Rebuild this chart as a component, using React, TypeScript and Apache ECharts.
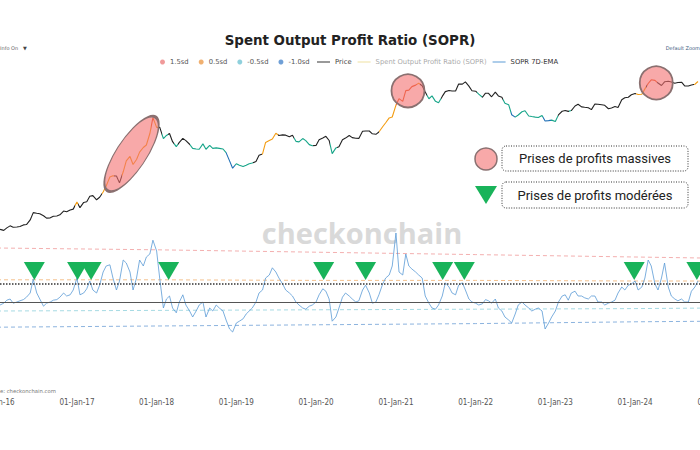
import React, { useEffect, useRef } from "react";
import * as echarts from "echarts";

// ---------- DATA ----------
// semi-monthly sample dates (1st and 15th), Jan 2016 .. Oct 2024
const sampleDates: string[] = [];
for (let y = 2016; y <= 2024; y++) {
  for (let m = 1; m <= 12; m++) {
    if (y === 2024 && m > 10) break;
    const mm = String(m).padStart(2, "0");
    sampleDates.push(`${y}-${mm}-01`, `${y}-${mm}-15`);
  }
}

const price2016 = [430, 385, 372, 405, 435, 415, 417, 425, 450, 455, 535, 690, 675, 665, 620, 570, 575, 607, 615, 640, 730, 712, 755, 780];
const price2017 = [1000, 820, 985, 1010, 1220, 1250, 1080, 1180, 1420, 1750, 2400, 2500, 2480, 1950, 2870, 4200, 4900, 3700, 4400, 5700, 6700, 7300, 10900, 19000];
const price2018 = [13500, 13600, 9100, 10200, 10900, 8200, 6900, 8000, 9200, 8500, 7500, 6500, 6350, 6300, 7600, 6300, 7200, 6500, 6600, 6500, 6350, 5600, 4200, 3250];
const price2019 = [3800, 3600, 3450, 3600, 3800, 3900, 4100, 5100, 5350, 8000, 8550, 9000, 11000, 10200, 10400, 10300, 9750, 10300, 8300, 8150, 9150, 8500, 7400, 7100];
const price2020 = [7200, 8800, 9350, 9900, 8550, 5400, 6600, 6850, 8800, 9300, 10200, 9450, 9230, 9200, 11800, 11900, 11900, 10800, 10600, 11500, 13800, 15900, 18800, 19400];
const price2021 = [29400, 36800, 33500, 48700, 49600, 56000, 59000, 63000, 57800, 46500, 36700, 40500, 33500, 31800, 39800, 47000, 48800, 48100, 48000, 61500, 61000, 66000, 57000, 48500];
const price2022 = [47700, 43100, 38700, 44500, 44400, 39300, 46300, 40500, 38500, 31300, 29800, 21000, 19300, 20800, 23300, 24100, 20100, 19700, 19300, 19100, 20500, 16900, 17100, 17400];
const price2023 = [16600, 20900, 23700, 24300, 23600, 24300, 28500, 30300, 27600, 27200, 26800, 25100, 30600, 30300, 29700, 29200, 25900, 26600, 27900, 27100, 35400, 37900, 38700, 42200];
const price2024 = [44200, 42500, 43000, 51800, 62400, 71000, 69700, 63400, 58200, 66200, 67700, 66000, 62800, 64500, 65300, 57500, 57300, 59200, 60800, 67000];
const priceValues = [...price2016, ...price2017, ...price2018, ...price2019, ...price2020, ...price2021, ...price2022, ...price2023, ...price2024];

const ema2016 = [1.0, 0.995, 0.998, 1.003, 1.005, 0.998, 1.0, 1.002, 1.004, 1.008, 1.015, 1.038, 1.015, 1.005, 0.993, 0.998, 1.0, 1.003, 1.004, 1.008, 1.015, 1.01, 1.012, 1.02];
const ema2017 = [1.04, 1.012, 1.015, 1.022, 1.035, 1.02, 1.015, 1.028, 1.05, 1.06, 1.062, 1.04, 1.02, 1.035, 1.07, 1.065, 1.05, 1.02, 1.04, 1.07, 1.06, 1.075, 1.08, 1.103];
const ema2018 = [1.085, 1.04, 0.99, 1.005, 1.01, 0.99, 0.982, 1.0, 1.012, 0.995, 0.985, 0.975, 0.985, 0.995, 1.0, 0.975, 0.99, 0.985, 0.995, 0.99, 0.985, 0.97, 0.955, 0.95];
const ema2019 = [0.965, 0.968, 0.972, 0.98, 0.985, 0.99, 1.0, 1.015, 1.02, 1.04, 1.045, 1.057, 1.05, 1.04, 1.03, 1.02, 1.015, 1.01, 1.0, 0.995, 0.99, 0.988, 0.993, 0.995];
const ema2020 = [1.0, 1.012, 1.022, 1.018, 1.005, 0.968, 0.975, 0.99, 1.008, 1.015, 1.01, 1.005, 1.0, 1.002, 1.02, 1.028, 1.015, 0.998, 1.0, 1.012, 1.03, 1.04, 1.045, 1.06];
const ema2021 = [1.115, 1.05, 1.045, 1.08, 1.06, 1.055, 1.05, 1.045, 1.04, 1.01, 0.998, 0.99, 0.988, 0.995, 1.01, 1.032, 1.025, 1.015, 1.012, 1.028, 1.032, 1.02, 1.005, 1.0];
const ema2022 = [0.998, 0.995, 0.997, 1.004, 1.002, 0.998, 1.005, 0.99, 0.985, 0.975, 0.97, 0.965, 0.98, 0.995, 1.0, 0.995, 0.99, 0.985, 0.988, 0.99, 0.985, 0.955, 0.965, 0.975];
const ema2023 = [0.985, 1.0, 1.01, 1.012, 1.003, 1.015, 1.018, 1.01, 1.01, 1.007, 1.005, 1.01, 1.01, 1.0, 1.0, 0.995, 0.998, 1.0, 1.003, 1.015, 1.025, 1.02, 1.028, 1.03];
const ema2024 = [1.035, 1.02, 1.025, 1.04, 1.07, 1.06, 1.03, 1.02, 1.04, 1.065, 1.025, 1.01, 1.005, 1.002, 1.005, 1.0, 1.0, 1.018, 1.025, 1.035];
const emaValues = [...ema2016, ...ema2017, ...ema2018, ...ema2019, ...ema2020, ...ema2021, ...ema2022, ...ema2023, ...ema2024];

// SOPR standard-deviation bands
const bandDates = ["2016-01-01", "2018-01-01", "2020-01-01", "2022-01-01", "2024-01-01", "2025-01-01"];
const sd15 = [1.09, 1.087, 1.083, 1.079, 1.075, 1.073];
const sd05 = [1.037, 1.037, 1.036, 1.036, 1.035, 1.035];
const sdm05 = [0.985, 0.986, 0.987, 0.988, 0.989, 0.99];
const sdm10 = [0.958, 0.96, 0.962, 0.964, 0.967, 0.968];
const breakEven = 1.0;
const thresholdLevel = 1.0325;

// periods where price is coloured by SOPR band
const band15Ranges = [["2017-12-05", "2017-12-20"], ["2021-01-01", "2021-04-05"], ["2024-02-25", "2024-04-10"]];
const band05Ranges = [["2016-12-25", "2017-01-08"], ["2017-04-25", "2017-06-20"], ["2017-07-25", "2017-12-05"], ["2017-12-20", "2018-01-05"], ["2019-04-28", "2019-07-10"], ["2020-10-15", "2021-01-01"], ["2021-04-05", "2021-04-20"], ["2024-01-05", "2024-02-20"], ["2024-09-28", "2024-10-31"]];
const bandM05Ranges = [["2018-01-25", "2018-02-20"], ["2018-03-20", "2018-04-10"], ["2018-06-05", "2018-11-15"], ["2018-12-28", "2019-03-20"], ["2019-09-20", "2019-12-20"], ["2020-03-05", "2020-04-05"], ["2021-05-25", "2021-07-25"], ["2022-01-05", "2022-01-31"], ["2022-05-05", "2022-06-10"], ["2022-07-01", "2022-11-05"], ["2022-12-10", "2023-01-15"], ["2023-03-05", "2023-03-15"]];
const bandM10Ranges = [["2018-11-15", "2018-12-28"], ["2022-06-10", "2022-07-01"], ["2022-11-05", "2022-12-10"]];

// annotations
const triangleDates = ["2016-06-20", "2017-01-04", "2017-03-07", "2018-02-25", "2020-02-05", "2020-08-15", "2021-08-03", "2021-11-10", "2023-12-28", "2024-10-10"];
const triangleLevel = 1.0517;
const ellipseSpot = { date: "2017-09-08", price: 5360 };
const circleSpots = [{ date: "2021-02-25", price: 48300 }, { date: "2024-04-07", price: 63800 }];

const xTickFormat = (v: number) => {
  const d = new Date(v);
  if (d.getMonth() !== 0 || d.getDate() !== 1) return "";
  return "01-Jan-" + String(d.getFullYear()).slice(2);
};

const C15 = "#e8541c";
const C05 = "#f39c12";
const CM05 = "#17a589";
const CM10 = "#1f6fb5";
const GREEN = "#19b35a";
const PINK = "rgba(243,112,112,0.6)";
const PINK_BORDER = "#8a7070";
const LINE_ICON = "path://M0,0 L26,0 L26,2 L0,2 Z";

export default function App() {
  const ref = useRef<HTMLDivElement>(null);
  useEffect(() => {
    if (!ref.current) return;
    const chart = echarts.init(ref.current, undefined, { renderer: "svg" });
    const t = (s: string) => echarts.time.parse(s).getTime();
    const pieces: any[] = [];
    const addPieces = (ranges: string[][], color: string) =>
      ranges.forEach(([a, b]) => pieces.push({ gte: t(a), lt: t(b), color }));
    addPieces(band15Ranges, C15);
    addPieces(band05Ranges, C05);
    addPieces(bandM05Ranges, CM05);
    addPieces(bandM10Ranges, CM10);

    const font = "DejaVu Sans";
    const xCommon = {
      type: "time",
      min: "2016-01-01",
      max: "2025-01-01",
      splitNumber: 9,
      minInterval: 365 * 86400000,
      maxInterval: 366 * 86400000,
      splitLine: { show: false },
      axisLine: { show: false },
      axisTick: { show: false },
    };

    const option: any = {
      animation: false,
      backgroundColor: "#ffffff",
      title: {
        text: "Spent Output Profit Ratio (SOPR)",
        left: "center",
        top: 34,
        padding: 0,
        textStyle: { fontFamily: font, fontWeight: "bold", fontSize: 13.4, color: "#222" },
      },
      legend: [
        {
          left: 160,
          top: 58.5,
          padding: 0,
          itemWidth: 5,
          itemHeight: 5,
          itemGap: 10,
          data: ["1.5sd", "0.5sd", "-0.5sd", "-1.0sd"].map((n) => ({ name: n, icon: "circle" })),
          textStyle: { fontFamily: font, fontSize: 6.8, color: "#555" },
        },
        {
          left: 317,
          top: 58.5,
          padding: 0,
          itemWidth: 13,
          itemHeight: 5,
          itemGap: 6,
          data: [
            { name: "Price", icon: LINE_ICON, itemStyle: { color: "#333" }, textStyle: { color: "#444" } },
            { name: "Spent Output Profit Ratio (SOPR)", icon: LINE_ICON, itemStyle: { color: "#eee0a0" }, textStyle: { color: "#aaa" } },
            { name: "SOPR 7D-EMA", icon: LINE_ICON, itemStyle: { color: "#5b9bd5" }, textStyle: { color: "#333" } },
          ],
          textStyle: { fontFamily: font, fontSize: 6.8, color: "#555" },
        },
      ],
      grid: [
        { left: -3, right: -15, top: 4, height: 264, outerBoundsMode: "none", containLabel: false },
        { left: -3, right: -15, top: 212, height: 150, outerBoundsMode: "none", containLabel: false },
      ],
      xAxis: [
        { ...xCommon, gridIndex: 0, axisLabel: { show: false } },
        {
          ...xCommon,
          gridIndex: 1,
          axisLabel: {
            show: true,
            margin: 36,
            formatter: xTickFormat,
            fontFamily: "Liberation Sans Narrow, DejaVu Sans Condensed, sans-serif",
            fontSize: 8,
            color: "#555",
            showMinLabel: true,
            showMaxLabel: true,
          },
        },
      ],
      yAxis: [
        { type: "log", gridIndex: 0, min: 100, max: 1000000, show: false, splitLine: { show: false } },
        { type: "value", gridIndex: 1, min: 0.9, max: 1.15, show: false, splitLine: { show: false } },
      ],
      visualMap: {
        type: "piecewise",
        show: false,
        seriesIndex: 0,
        dimension: 0,
        pieces,
        outOfRange: { color: "#222" },
      },
      series: [
        {
          name: "Price",
          type: "line",
          xAxisIndex: 0,
          yAxisIndex: 0,
          symbol: "none",
          z: 3,
          lineStyle: { width: 1.1 },
          data: sampleDates.map((d, i) => [d, priceValues[i]]),
          markPoint: {
            silent: true,
            label: { show: false },
            data: [
              {
                coord: [ellipseSpot.date, ellipseSpot.price],
                symbol: "circle",
                symbolSize: [88, 30],
                symbolRotate: 56.7,
                itemStyle: { color: PINK, borderColor: PINK_BORDER, borderWidth: 1.8 },
              },
              ...circleSpots.map((c) => ({
                coord: [c.date, c.price],
                symbol: "circle",
                symbolSize: 33,
                itemStyle: { color: PINK, borderColor: PINK_BORDER, borderWidth: 1.8 },
              })),
            ],
          },
        },
        ...[
          { name: "1.5sd", vals: sd15, color: "#f09a9a" },
          { name: "0.5sd", vals: sd05, color: "#f0b070" },
          { name: "-0.5sd", vals: sdm05, color: "#8fd0dc" },
          { name: "-1.0sd", vals: sdm10, color: "#6f9fd6" },
        ].map((b) => ({
          name: b.name,
          type: "line",
          xAxisIndex: 1,
          yAxisIndex: 1,
          symbol: "none",
          z: 2,
          silent: true,
          itemStyle: { color: b.color },
          lineStyle: { color: b.color, width: 0.8, type: [4, 3] },
          data: bandDates.map((d, i) => [d, b.vals[i]]),
        })),
        {
          name: "Spent Output Profit Ratio (SOPR)",
          type: "line",
          xAxisIndex: 1,
          yAxisIndex: 1,
          symbol: "none",
          itemStyle: { color: "#eee0a0" },
          lineStyle: { color: "#eee0a0", width: 1 },
          data: [],
        },
        {
          name: "SOPR 7D-EMA",
          type: "line",
          xAxisIndex: 1,
          yAxisIndex: 1,
          symbol: "none",
          z: 3,
          itemStyle: { color: "#5b9bd5" },
          lineStyle: { color: "#5b9bd5", width: 0.8 },
          data: sampleDates.map((d, i) => [d, emaValues[i]]),
          markLine: {
            silent: true,
            symbol: "none",
            label: { show: false },
            data: [
              { yAxis: breakEven, lineStyle: { color: "#555", type: "solid", width: 1 } },
              { yAxis: thresholdLevel, lineStyle: { color: "#333", type: "dotted", width: 1.5 } },
            ],
          },
        },
        {
          name: "triangles",
          type: "scatter",
          xAxisIndex: 1,
          yAxisIndex: 1,
          symbol: "triangle",
          symbolSize: [21, 18],
          symbolRotate: 180,
          z: 6,
          silent: true,
          itemStyle: { color: GREEN, opacity: 1 },
          data: triangleDates.map((d) => [d, triangleLevel]),
        },
      ],
      graphic: [
        {
          type: "text",
          x: 362,
          y: 232,
          z: 0,
          style: { text: "checkonchain", fontFamily: "Open Sans", fontWeight: "bold", fontSize: 29, fill: "#d9d9d9", align: "center", verticalAlign: "middle" },
        },
        { type: "text", x: 0, y: 48, style: { text: "Info On", fontFamily: font, fontSize: 5, fill: "#666", verticalAlign: "middle" } },
        { type: "text", x: 23, y: 48, style: { text: "▼", fontFamily: font, fontSize: 5, fill: "#444", verticalAlign: "middle" } },
        { type: "text", x: 700, y: 48, style: { text: "Default Zoom", fontFamily: font, fontSize: 5, fill: "#3d5a80", align: "right", verticalAlign: "middle" } },
        { type: "text", x: -15, y: 391, style: { text: "Source: checkonchain.com", fontFamily: font, fontSize: 5.3, fill: "#777", verticalAlign: "middle" } },
        {
          type: "rect", z: 100,
          shape: { x: 502, y: 146, width: 186, height: 25, r: 4 },
          style: { fill: "#fff", stroke: "#333", lineWidth: 1, lineDash: [1, 1.5] },
        },
        {
          type: "text", z: 101, x: 595, y: 158.5,
          style: { text: "Prises de profits massives", fontFamily: "Roboto", fontSize: 13, fill: "#222", align: "center", verticalAlign: "middle" },
        },
        {
          type: "rect", z: 100,
          shape: { x: 502, y: 182, width: 186, height: 26, r: 4 },
          style: { fill: "#fff", stroke: "#333", lineWidth: 1, lineDash: [1, 1.5] },
        },
        {
          type: "text", z: 101, x: 595, y: 195,
          style: { text: "Prises de profits modérées", fontFamily: "Roboto", fontSize: 13, fill: "#222", align: "center", verticalAlign: "middle" },
        },
        {
          type: "circle", z: 100,
          shape: { cx: 486, cy: 159, r: 11 },
          style: { fill: PINK, stroke: PINK_BORDER, lineWidth: 1.5 },
        },
        {
          type: "polygon", z: 100,
          shape: { points: [[475, 186], [497, 186], [486, 204]] },
          style: { fill: GREEN },
        },
      ],
    };
    chart.setOption(option);
    return () => chart.dispose();
  }, []);
  return (
    <div
      ref={ref}
      style={{ position: "fixed", left: 0, top: 0, width: 700, height: 450, background: "#fff" }}
    />
  );
}
